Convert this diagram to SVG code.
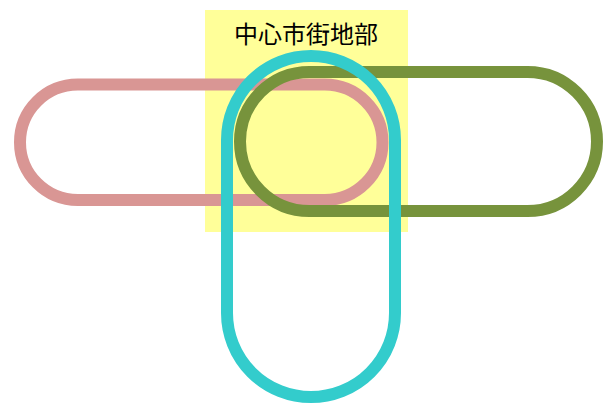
<svg xmlns="http://www.w3.org/2000/svg" width="604" height="403" viewBox="0 0 604 403">
<style>
.loop{fill:none;stroke-width:12}
.lbl{font-family:"Noto Sans CJK JP","Noto Sans CJK SC",sans-serif;font-size:24px;fill:#000;text-anchor:middle}
</style>
<rect width="604" height="403" fill="#fff"/>
<g id="area">
<rect x="205" y="10" width="203" height="222" fill="#ffff99"/>
<text class="lbl" x="306" y="43">中心市街地部</text>
</g>
<g id="pink"><rect class="loop" x="20" y="84.5" width="362.5" height="115.5" rx="57.75" stroke="#d99694"/></g>
<g id="green"><rect class="loop" x="240" y="72" width="357" height="139" rx="69.5" stroke="#77933c"/></g>
<g id="cyan"><rect class="loop" x="227" y="56" width="168" height="341" rx="84" stroke="#33cccc"/></g>
</svg>
